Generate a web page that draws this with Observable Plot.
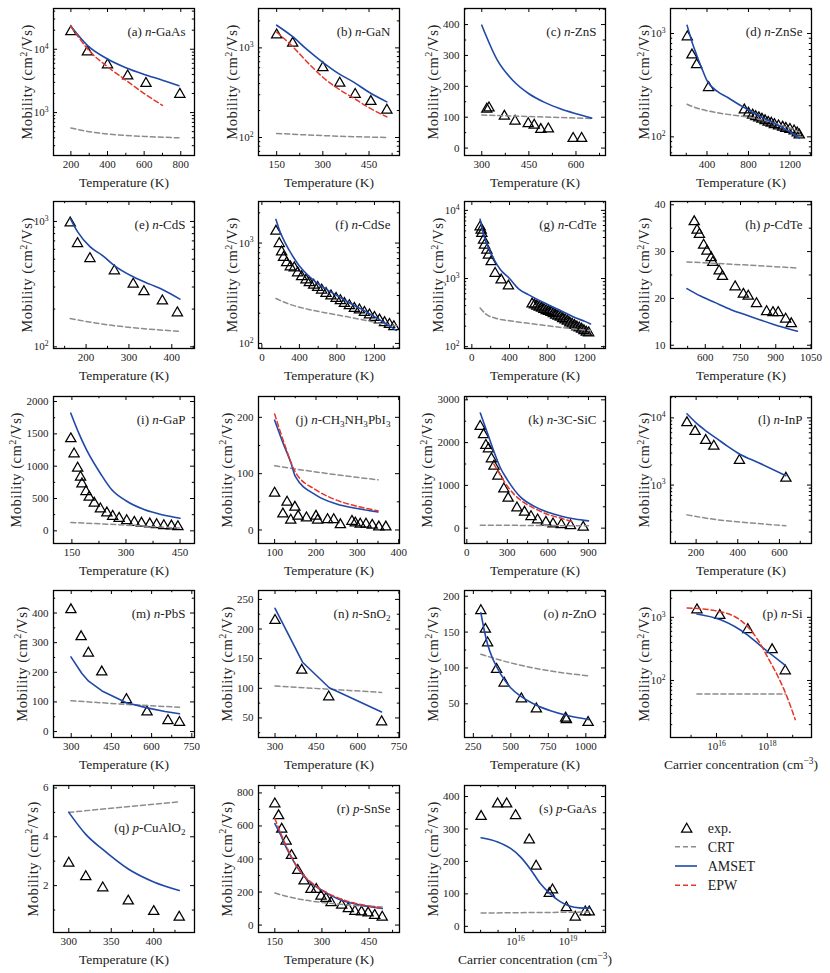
<!DOCTYPE html>
<html><head><meta charset="utf-8">
<script src="https://cdn.jsdelivr.net/npm/d3@7"></script>
<script src="https://cdn.jsdelivr.net/npm/@observablehq/plot@0.6"></script>
<style>
body{margin:0;background:#fff;}
#fig{position:relative;width:830px;height:973px;font-family:"Liberation Serif","Times New Roman",serif;background:#fff;}
#fig svg, #fig svg text{font-family:"Liberation Serif","Times New Roman",serif !important;font-weight:normal;}
.cell{position:absolute;}
</style></head><body><div id="fig"></div>
<script>
// ---------------- data ----------------
const T = "Temperature (K)", N = "Carrier concentration (cm^{−3})";
// (a) n-GaAs
const a_xt=[200,400,600,800], a_yt=[1e3,1e4];
const a_exp=[[200,20000],[290,9600],[400,6000],[510,4000],[610,3050],[795,2050]];
const a_amset=[[200,23000],[290,11500],[400,7000],[500,5100],[600,4000],[700,3250],[790,2650]];
const a_epw=[[200,23000],[300,9500],[400,5300],[500,3250],[600,2000],[700,1300]];
const a_crt=[[200,570],[300,500],[400,460],[500,435],[600,420],[700,408],[790,400]];
// (b) n-GaN
const b_xt=[150,300,450], b_yt=[1e2,1e3];
const b_exp=[[150,1450],[202,1170],[300,625],[355,420],[405,315],[456,262],[508,210]];
const b_amset=[[150,1790],[200,1350],[250,950],[300,690],[350,520],[400,415],[450,320],[508,250]];
const b_epw=[[150,1500],[200,1050],[250,690],[300,470],[350,350],[400,275],[450,215],[508,170]];
const b_crt=[[150,111],[300,105],[508,100]];
// (c) n-ZnS
const c_xt=[300,450,600], c_yt=[0,100,200,300,400];
const c_exp=[[316,131],[323,135],[372,108],[406,92],[448,84],[467,79],[488,65],[512,67],[591,36],[618,36]];
const c_amset=[[300,398],[350,284],[400,218],[450,176],[500,148],[550,127],[600,111],[650,97]];
const c_crt=[[300,107],[650,96]];
// (d) n-ZnSe
const d_xt=[400,800,1200], d_yt=[1e2,1e3];
const d_exp=[[210,960],[255,640],[300,515],[415,310],[760,188],[800,175],[840,168],[870,162],[900,158],[930,153],[960,148],[990,143],[1020,140],[1050,136],[1090,132],[1130,128],[1160,125],[1200,122],[1240,118],[1270,113],[1290,108]];
const d_amset=[[208,1200],[250,860],[300,620],[350,460],[400,350],[500,275],[600,240],[700,208],[760,192],[800,182],[900,160],[1000,143],[1100,127],[1200,112],[1290,97]];
const d_crt=[[208,207],[300,190],[400,179],[500,171],[600,165],[700,160],[800,155],[900,148],[1000,141],[1100,131],[1200,121],[1290,112]];
// (e) n-CdS
const e_xt=[200,300,400], e_yt=[1e2,1e3];
const e_exp=[[163,1000],[180,685],[209,520],[266,415],[310,325],[335,283],[378,239],[413,192]];
const e_amset=[[163,1060],[180,830],[209,630],[240,530],[266,445],[310,362],[350,315],[378,287],[419,240]];
const e_crt=[[163,168],[250,150],[330,140],[419,133]];
// (f) n-CdSe
const f_xt=[0,400,800,1200], f_yt=[1e2,1e3];
const f_exp=[[150,1356],[185,1023],[210,845],[231,743],[264,658],[303,600],[345,586],[381,523],[424,478],[470,443],[506,416],[552,394],[595,374],[637,352],[684,326],[737,307],[791,291],[837,276],[880,259],[933,246],[986,231],[1040,223],[1093,211],[1147,199],[1200,188],[1254,177],[1307,167],[1360,160],[1407,152]];
const f_amset=[[150,1720],[200,1250],[250,1000],[300,820],[350,690],[400,590],[500,470],[600,392],[700,340],[800,300],[900,265],[1000,235],[1100,210],[1200,185],[1300,162],[1432,135]];
const f_crt=[[150,280],[300,245],[500,218],[700,200],[900,185],[1100,170],[1300,156],[1432,150]];
// (g) n-CdTe
const g_xt=[0,400,800,1200], g_yt=[1e2,1e3,1e4];
const g_exp=[[88,6030],[99,5390],[106,4820],[124,3850],[134,3250],[159,2750],[176,2320],[205,1855],[247,1253],[311,1000],[388,816],[640,445],[665,430],[690,415],[715,400],[740,385],[765,370],[790,355],[815,345],[840,335],[865,320],[890,305],[915,295],[940,285],[965,270],[990,260],[1015,250],[1040,235],[1065,225],[1090,215],[1115,205],[1140,198],[1165,190],[1190,180],[1215,172],[1240,168]];
const g_amset=[[88,7400],[100,6300],[120,4700],[150,3500],[200,2400],[250,1750],[300,1370],[400,1000],[500,700],[600,580],[700,490],[800,420],[900,360],[1000,310],[1100,265],[1200,235],[1260,215]];
const g_crt=[[88,370],[150,300],[250,262],[400,240],[600,220],[800,203],[1000,188],[1260,172]];
// (h) p-CdTe
const h_xt=[600,750,900,1050], h_yt=[10,20,30,40];
const h_exp=[[553,36.7],[565,34.9],[575,34.0],[593,31.7],[607,30.4],[625,29.0],[632,28.0],[659,26.2],[673,25.0],[727,22.8],[762,21.2],[783,20.8],[818,19.2],[861,17.5],[888,17.3],[910,17.3],[942,15.9],[966,14.9]];
const h_amset=[[522,22.1],[580,20.5],[642,19.1],[710,17.6],[783,16.3],[888,14.5],[992,13.0]];
const h_crt=[[522,27.8],[750,27.2],[992,26.5]];
// (i) n-GaP
const i_xt=[150,300,450], i_yt=[0,500,1000,1500,2000];
const i_exp=[[147,1447],[156,1214],[166,992],[174,853],[178,749],[189,630],[198,543],[212,450],[229,362],[247,300],[263,248],[281,217],[302,181],[323,155],[343,140],[366,129],[385,119],[405,103],[426,98],[444,88]];
const i_amset=[[147,1820],[170,1500],[190,1260],[230,880],[260,640],[300,465],[350,330],[400,250],[450,195]];
const i_crt=[[147,130],[300,88],[450,42]];
// (j) n-CH3NH3PbI3
const j_xt=[100,200,300,400], j_yt=[0,100,200];
const j_exp=[[100,68],[120,31],[130,52],[139,20],[149,43],[157,27],[177,24],[200,27],[204,20],[228,21],[243,21],[259,12],[287,18],[295,15],[307,13],[321,13],[336,11],[352,8],[369,8]];
const j_amset=[[100,195],[120,155],[140,118],[150,95],[200,62],[250,46],[300,38],[350,32]];
const j_epw=[[100,206],[125,150],[150,103],[200,71],[250,53],[300,42],[350,34]];
const j_crt=[[100,114],[200,103],[350,89]];
// (k) n-3C-SiC
const k_xt=[0,300,600,900], k_yt=[0,1000,2000,3000];
const k_exp=[[99,2414],[124,2219],[141,1969],[160,1890],[182,1656],[201,1484],[230,1250],[274,953],[306,734],[371,508],[427,406],[475,305],[524,227],[585,172],[638,133],[699,117],[767,94],[861,55]];
const k_amset=[[100,2690],[150,2250],[200,1800],[250,1400],[300,1130],[400,720],[500,510],[600,370],[700,280],[800,215],[900,170]];
const k_epw=[[200,1500],[250,1230],[300,980],[350,790],[400,650],[500,460],[600,320],[700,230],[780,150]];
const k_crt=[[100,70],[900,55]];
// (l) n-InP
const l_xt=[200,400,600], l_yt=[1e3,1e4];
const l_exp=[[156,8900],[195,6600],[246,4850],[285,4000],[408,2450],[631,1330]];
const l_amset=[[156,11500],[200,8400],[250,6300],[300,4900],[350,3800],[408,2900],[500,2150],[631,1380]];
const l_crt=[[156,360],[300,305],[450,275],[631,248]];
// (m) n-PbS
const m_xt=[300,450,600,750], m_yt=[0,100,200,300,400];
const m_exp=[[299,416],[337,325],[364,270],[414,206],[506,113],[583,71],[661,42],[704,36]];
const m_amset=[[299,252],[340,196],[365,170],[415,137],[506,97],[583,80],[650,68],[704,60]];
const m_crt=[[299,104],[500,92],[704,82]];
// (n) n-SnO2
const n_xt=[300,450,600,750], n_yt=[50,100,150,200,250];
const n_exp=[[300,217],[397,133],[495,88],[687,46]];
const n_amset=[[300,235],[400,144],[497,101],[687,60]];
const n_crt=[[300,104],[687,93]];
// (o) n-ZnO
const o_xt=[250,500,750,1000], o_yt=[50,100,150,200];
const o_exp=[[300,182],[330,156],[345,137],[405,100],[455,81],[570,59],[670,45],[865,32],[870,30],[1015,26]];
const o_amset=[[300,177],[320,155],[345,133],[375,115],[405,102],[455,84],[500,72],[570,60],[670,48],[770,40],[870,34],[1018,28]];
const o_crt=[[300,119],[500,107],[700,98],[1018,89]];
// (p) n-Si
const p_xt=[1e16,1e18], p_xminor=[1e15,1e17,1e19], p_yt=[1e2,1e3];
const p_exp=[[1.7e15,1390],[1.35e16,1130],[1.7e17,676],[1.55e18,324],[5.1e18,150]];
const p_amset=[[1.7e15,1130],[1.55e16,907],[1.7e17,523],[5.5e17,353],[5.1e18,174]];
const p_epw=[[7e14,1410],[8.7e15,1277],[9.3e16,885],[4.1e17,450],[1.15e18,216],[2.8e18,110],[5.9e18,56],[1.26e19,24]];
const p_crt=[[1.7e15,61],[5.1e18,61]];
// (q) p-CuAlO2
const q_xt=[300,350,400], q_yt=[2,4,6];
const q_exp=[[300,2.98],[320,2.43],[340,1.97],[370,1.43],[400,1.0],[430,0.77]];
const q_amset=[[300,5.0],[320,4.1],[340,3.48],[370,2.68],[400,2.15],[430,1.8]];
const q_crt=[[300,5.0],[430,5.43]];
// (r) p-SnSe
const r_xt=[150,300,450], r_yt=[0,200,400,600,800];
const r_exp=[[150,743],[162,671],[172,589],[186,517],[203,430],[223,340],[243,276],[265,225],[282,225],[297,184],[313,170],[329,145],[363,129],[384,108],[405,92],[426,88],[447,82],[468,68],[492,57]];
const r_amset=[[150,614],[170,540],[186,470],[200,420],[223,345],[250,280],[280,235],[300,210],[350,160],[400,130],[450,112],[492,100]];
const r_epw=[[150,645],[170,550],[186,480],[200,425],[223,345],[250,285],[280,238],[300,213],[350,165],[400,135],[450,115],[492,102]];
const r_crt=[[150,194],[200,168],[250,150],[300,137],[350,127],[400,119],[492,110]];
// (s) p-GaAs
const s_xt=[1e16,1e19], s_xminor=[1e14,1e15,1e17,1e18,1e20,1e21], s_yt=[0,100,200,300,400];
const s_exp=[[1.07e14,343],[9.4e14,382],[3.1e15,382],[1e16,346],[6.1e16,271],[1.5e17,190],[8.5e17,106],[1.3e18,117],[8.1e18,62],[2.6e19,33],[9.8e19,49],[1.65e20,49]];
const s_amset=[[1.07e14,273],[9.4e14,260],[5.2e15,240],[1.9e16,214],[6.9e16,177],[2.6e17,132],[9.3e17,101],[3.4e18,77],[1.2e19,63],[4.6e19,57],[1.65e20,56]];
const s_crt=[[1.07e14,41],[1.65e20,44]];
// legend
const legendLabels=["exp.","CRT","AMSET","EPW"];

// ---------------- panels ----------------
const panels = [
 {id:"a",label:"(a) *n*-GaAs",xdom:[105,875],ydom:[210,44000],ylog:1,xt:a_xt,yt:a_yt,exp:a_exp,amset:a_amset,epw:a_epw,crt:a_crt,xlabel:T},
 {id:"b",label:"(b) *n*-GaN",xdom:[91,549],ydom:[63,2750],ylog:1,xt:b_xt,yt:b_yt,exp:b_exp,amset:b_amset,epw:b_epw,crt:b_crt,xlabel:T},
 {id:"c",label:"(c) *n*-ZnS",xdom:[245,694],ydom:[-24,452],xt:c_xt,yt:c_yt,exp:c_exp,amset:c_amset,crt:c_crt,xlabel:T},
 {id:"d",label:"(d) *n*-ZnSe",xdom:[48,1408],ydom:[66,1745],ylog:1,xt:d_xt,yt:d_yt,exp:d_exp,amset:d_amset,crt:d_crt,xlabel:T},
 {id:"e",label:"(e) *n*-CdS",xdom:[124,453],ydom:[97,1443],ylog:1,xt:e_xt,yt:e_yt,exp:e_exp,amset:e_amset,crt:e_crt,xlabel:T},
 {id:"f",label:"(f) *n*-CdSe",xdom:[-36,1467],ydom:[89,2594],ylog:1,xt:f_xt,yt:f_yt,exp:f_exp,amset:f_amset,crt:f_crt,xlabel:T},
 {id:"g",label:"(g) *n*-CdTe",xdom:[-78,1419],ydom:[94,13500],ylog:1,xt:g_xt,yt:g_yt,exp:g_exp,amset:g_amset,crt:g_crt,xlabel:T},
 {id:"h",label:"(h) *p*-CdTe",xdom:[452,1052],ydom:[9.3,40.7],xt:h_xt,yt:h_yt,exp:h_exp,amset:h_amset,crt:h_crt,xlabel:T},
 {id:"i",label:"(i) *n*-GaP",xdom:[99,490],ydom:[-196,2078],xt:i_xt,yt:i_yt,exp:i_exp,amset:i_amset,crt:i_crt,xlabel:T},
 {id:"j",label:"(j) *n*-CH_3NH_3PbI_3",xdom:[61,402],ydom:[-24,237],xt:j_xt,yt:j_yt,exp:j_exp,amset:j_amset,epw:j_epw,crt:j_crt,xlabel:T},
 {id:"k",label:"(k) *n*-3C-SiC",xdom:[-17,1026],ydom:[-359,3078],xt:k_xt,yt:k_yt,exp:k_exp,amset:k_amset,epw:k_epw,crt:k_crt,xlabel:T},
 {id:"l",label:"(l) *n*-InP",xdom:[77,754],ydom:[135,20800],ylog:1,xt:l_xt,yt:l_yt,exp:l_exp,amset:l_amset,crt:l_crt,xlabel:T},
 {id:"m",label:"(m) *n*-PbS",xdom:[234,760],ydom:[-20,476],xt:m_xt,yt:m_yt,exp:m_exp,amset:m_amset,crt:m_crt,xlabel:T,curve:"linear"},
 {id:"n",label:"(n) *n*-SnO_2",xdom:[240,752],ydom:[17,265],xt:n_xt,yt:n_yt,exp:n_exp,amset:n_amset,crt:n_crt,xlabel:T,curve:"linear"},
 {id:"o",label:"(o) *n*-ZnO",xdom:[191,1131],ydom:[3,208],xt:o_xt,yt:o_yt,exp:o_exp,amset:o_amset,crt:o_crt,xlabel:T},
 {id:"p",label:"(p) *n*-Si",xdom:[1.55e14,5.5e19],xlog:1,xminor:p_xminor,ydom:[12.5,2660],ylog:1,xt:p_xt,yt:p_yt,exp:p_exp,amset:p_amset,epw:p_epw,crt:p_crt,xlabel:N},
 {id:"q",label:"(q) *p*-CuAlO_2",labelDy:42,xdom:[282,448],ydom:[0.08,6.1],xt:q_xt,yt:q_yt,exp:q_exp,amset:q_amset,crt:q_crt,xlabel:T},
 {id:"r",label:"(r) *p*-SnSe",xdom:[98,547],ydom:[-45,845],xt:r_xt,yt:r_yt,exp:r_exp,amset:r_amset,epw:r_epw,crt:r_crt,xlabel:T},
 {id:"s",label:"(s) *p*-GaAs",xdom:[1.2e13,1.4e21],xlog:1,xminor:s_xminor,ydom:[-19,434],xt:s_xt,yt:s_yt,exp:s_exp,amset:s_amset,crt:s_crt,xlabel:N}
];

const FONT='"Liberation Serif","Times New Roman",serif';
const BLUE="#1f48a8", RED="#e5362b", GRAY="#8c8c8c", INK="#222";
const FW=141, FH=147, TL=4, TLm=2.2;
const colX=[0,205,411,617], rowY=[0,193,388,582,777];

function linMinor(maj, dom){const s=maj[1]-maj[0];const out=[];for(let v=maj[0]-s/2-s*Math.ceil((maj[0]-dom[0])/s);v<=dom[1];v+=s){if(v>=dom[0]&&v<=dom[1])out.push(v);}return out;}
function logMinor(dom){const out=[];for(let k=Math.floor(Math.log10(dom[0]));k<=Math.ceil(Math.log10(dom[1]));k++){for(let m=2;m<=9;m++){const v=m*Math.pow(10,k);if(v>=dom[0]&&v<=dom[1])out.push(v);}}return out;}
function inTicks(xs, ys){
  const st={stroke:"black",strokeWidth:1};const m=[];
  for(const [v,L] of xs){m.push(Plot.tickX(v,{x:d=>d,insetTop:FH-L,...st}),Plot.tickX(v,{x:d=>d,insetBottom:FH-L,...st}));}
  for(const [v,L] of ys){m.push(Plot.tickY(v,{y:d=>d,insetRight:FW-L,...st}),Plot.tickY(v,{y:d=>d,insetLeft:FW-L,...st}));}
  return m;
}
const fmt = lg => lg ? (d=>"10^{"+Math.round(Math.log10(d))+"}") : (d=>String(d));
const X=d=>d[0], Y=d=>d[1];

function makePanel(p){
  const xmin = p.xminor || (p.xlog ? logMinor(p.xdom) : linMinor(p.xt,p.xdom));
  const ymin = p.ylog ? logMinor(p.ydom) : linMinor(p.yt,p.ydom);
  const curve = p.curve || "monotone-x";
  // y title sits left of the widest tick label, as in matplotlib
  const digits = p.ylog ? 2 : Math.max(...p.yt.map(t=>String(t).length));
  const ytOff = 15 + 5.5*digits;
  const marks=[
    Plot.dot(p.exp,{x:X,y:Y,symbol:"triangle",r:3.8,stroke:"black",strokeWidth:1.25,fill:"none",dy:1.5}),
    Plot.line(p.crt,{x:X,y:Y,stroke:GRAY,strokeWidth:1.5,strokeDasharray:"5,3",curve}),
    Plot.line(p.amset,{x:X,y:Y,stroke:BLUE,strokeWidth:1.6,curve}),
  ];
  if(p.epw) marks.push(Plot.line(p.epw,{x:X,y:Y,stroke:RED,strokeWidth:1.5,strokeDasharray:"5,3",curve}));
  marks.push(...inTicks([[p.xt,TL],[xmin,TLm]],[[p.yt,TL],[ymin,TLm]]));
  marks.push(Plot.frame({stroke:"black",strokeWidth:1.3}));
  marks.push(Plot.axisX(p.xt,{tickSize:0,tickPadding:5,tickFormat:fmt(p.xlog),label:null,fontSize:11,fill:INK}));
  marks.push(Plot.axisY(p.yt,{tickSize:0,tickPadding:5,tickFormat:fmt(p.ylog),label:null,fontSize:11,fill:INK}));
  marks.push(Plot.text([p.xlabel],{text:d=>d,frameAnchor:"bottom",textAnchor:"middle",lineAnchor:"middle",dy:27,fontSize:13.5,fill:INK}));
  marks.push(Plot.text(["Mobility (cm^2/Vs)"],{text:d=>d,frameAnchor:"left",textAnchor:"middle",lineAnchor:"middle",dx:-ytOff,rotate:-90,fontSize:14.5,fill:INK}));
  marks.push(Plot.text([p.label],{text:d=>d,frameAnchor:"top-right",dx:-9,dy:p.labelDy||23,textAnchor:"end",lineAnchor:"middle",fontSize:13,fill:INK}));
  return Plot.plot({
    width:206,height:195,marginLeft:53,marginRight:12,marginTop:8,marginBottom:40,
    x:{type:p.xlog?"log":"linear",domain:p.xdom},
    y:{type:p.ylog?"log":"linear",domain:p.ydom},
    style:"font-family:"+FONT+";color:black;background:white;overflow:visible;",
    marks
  });
}

function rich(el){
  const s=el.textContent;
  if(s.startsWith("Mobility")) el.style.letterSpacing="0.5px";
  if(!/[*_^]/.test(s)) return;
  const fs=parseFloat(getComputedStyle(el).fontSize)||12;
  while(el.firstChild) el.removeChild(el.firstChild);
  let italic=false,cur=0,buf="",i=0;
  const add=(txt,shift,small)=>{
    if(!txt) return;
    const t=document.createElementNS("http://www.w3.org/2000/svg","tspan");
    t.textContent=txt;
    const dy=shift-cur; if(dy) t.setAttribute("dy",dy.toFixed(2)); cur=shift;
    if(italic) t.setAttribute("font-style","italic");
    if(small) t.setAttribute("font-size",(fs*0.7).toFixed(2));
    el.appendChild(t);
  };
  while(i<s.length){
    const c=s[i];
    if(c==="*"){add(buf,0);buf="";italic=!italic;i++;}
    else if(c==="^"||c==="_"){
      add(buf,0);buf="";
      let content;
      if(s[i+1]==="{"){const j=s.indexOf("}",i);content=s.slice(i+2,j);i=j+1;}
      else{content=s[i+1];i+=2;}
      const wasItalic=italic; italic=false;
      add(content,c==="^"?-fs*0.38:fs*0.25,true);
      italic=wasItalic;
    } else {buf+=c;i++;}
  }
  add(buf,0);
}

const fig=document.getElementById("fig");
panels.forEach((p,idx)=>{
  const div=document.createElement("div");
  div.className="cell";
  div.style.left=colX[idx%4]+"px";
  div.style.top=rowY[Math.floor(idx/4)]+"px";
  div.appendChild(makePanel(p));
  fig.appendChild(div);
  div.querySelectorAll("text").forEach(rich);
});

// legend
const leg=d3.create("svg").attr("width",170).attr("height",95)
  .style("position","absolute").style("left","660px").style("top","810px")
  .style("font-family",FONT).style("font-size","14px");
leg.append("path").attr("d",d3.symbol(d3.symbolTriangle,Math.PI*3.8*3.8)())
  .attr("transform","translate(26.7,19.2)").attr("fill","none").attr("stroke","black").attr("stroke-width",1.25);
const styles=[null,{c:GRAY,d:"5,3"},{c:BLUE,d:null},{c:RED,d:"5,3"}];
const ly=[17.7,36.7,56,75.3];
styles.forEach((s,i)=>{
  if(s){leg.append("line").attr("x1",15).attr("x2",37).attr("y1",ly[i]).attr("y2",ly[i])
    .attr("stroke",s.c).attr("stroke-width",1.6).attr("stroke-dasharray",s.d);}
  leg.append("text").attr("x",47.7).attr("y",ly[i]).attr("dy","0.35em").attr("fill",INK).text(legendLabels[i]);
});
fig.appendChild(leg.node());
</script></body></html>
